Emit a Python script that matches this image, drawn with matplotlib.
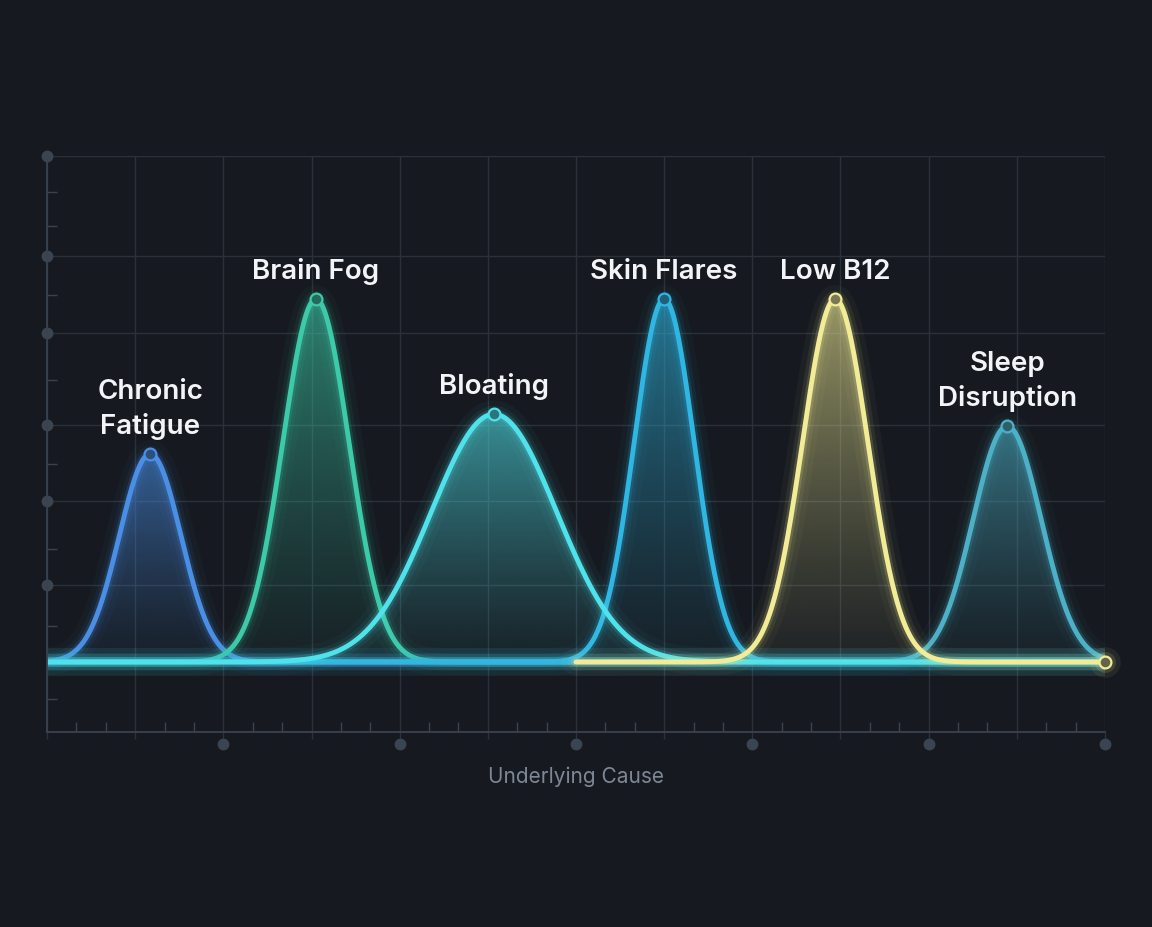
import numpy as np
import matplotlib
matplotlib.use("Agg")
import matplotlib.pyplot as plt
from matplotlib.colors import to_rgb
from matplotlib.patches import Polygon
from matplotlib.ticker import MultipleLocator, FixedLocator
from matplotlib.transforms import offset_copy

# peaks (x in grid units, height scaled so the tallest = 100)
causes = ["Chronic\nFatigue", "Brain Fog", "Bloating", "Skin Flares", "Low B12", "Sleep\nDisruption"]
centers = [1.17, 3.05, 5.07, 7.00, 8.94, 10.89]
heights = [57.3, 100.0, 68.3, 100.0, 100.0, 65.0]
spreads = [0.35, 0.375, 0.71, 0.34, 0.37, 0.385]
colors = ["#4a8fe6", "#3ccaa8", "#50e2ea", "#2fb6e2", "#f2ec96", "#4cb0c6"]
x_start = [0, 0, 0, 0, 6, 0]
x_end = [12, 12, 12, 12, 12, 12]
draw_order = [0, 1, 5, 3, 2, 4]

y_major = [0, 21.2, 44.4, 65.3, 90.6, 111.8, 139.4]
y_minor = [-10.2, 9.9, 31.1, 54.5, 77.7, 101.2, 120.2, 129.6]
x_range = (0, 12)
y_range = (-19.3, 139.4)

bg = "#161a20"
grid_col = "#2a313b"
axis_col = "#3a424e"
dot_col = "#3b4451"

plt.rcParams["font.family"] = ["Inter", "DejaVu Sans"]

fig = plt.figure(figsize=(11.52, 9.28), dpi=100)
fig.patch.set_facecolor(bg)
ax = fig.add_axes([0.0408, 0.2101, 0.9184, 0.6207])
ax.set_facecolor(bg)


def blend(c, a):
    r = np.array(to_rgb(c))
    b = np.array(to_rgb(bg))
    return tuple(b + (r - b) * a)


for k, i in enumerate(draw_order):
    c, h, s, col = centers[i], heights[i], spreads[i], colors[i]
    x = np.linspace(x_start[i], x_end[i], 800)
    y = h * np.exp(-((x - c) ** 2) / (2 * s ** 2))
    z = 2 + k * 0.1

    # gradient fill under the curve
    verts = np.column_stack([np.r_[x, x[::-1]], np.r_[y, np.zeros_like(y)]])
    patch = Polygon(verts, closed=True, facecolor="none", edgecolor="none")
    ax.add_patch(patch)
    grad = np.zeros((256, 1, 4))
    grad[:, 0, :3] = to_rgb(col)
    grad[:, 0, 3] = 0.05 + 0.53 * np.linspace(0, 1, 256) ** 1.2
    im = ax.imshow(grad, extent=[x_start[i], x_end[i], 0, h], origin="lower",
                   aspect="auto", interpolation="bicubic", zorder=z)
    im.set_clip_path(patch)

    # glow + line
    for lw, a in [(20, 0.035), (12, 0.07), (7, 0.16)]:
        ax.plot(x, y, color=col, lw=lw, alpha=a, solid_capstyle="round", zorder=z + 0.01)
    ax.plot(x, y, color=col, lw=3.5, solid_capstyle="round", zorder=z + 0.02)

    # peak marker and label
    ax.plot([c], [h], "o", ms=8.5, mfc=blend(col, 0.45), mec=col, mew=1.6, zorder=z + 0.03)
    ax.annotate(causes[i], (c, h), xytext=(0, 10.5), textcoords="offset points",
                ha="center", va="bottom", fontsize=20, fontweight="semibold",
                color="#f2f4f7", linespacing=1.38, zorder=10)

# end marker on the right of the last series
end_col = colors[4]
for ms, a in [(22, 0.07), (15, 0.14)]:
    ax.plot([x_range[1]], [0], "o", ms=ms, color=end_col, alpha=a, mew=0, clip_on=False, zorder=8)
ax.plot([x_range[1]], [0], "o", ms=8.5, mfc=blend(end_col, 0.35), mec=end_col, mew=1.6,
        clip_on=False, zorder=8.1)

ax.set_xlim(*x_range)
ax.set_ylim(*y_range)

ax.xaxis.set_major_locator(MultipleLocator(1))
ax.xaxis.set_minor_locator(MultipleLocator(1 / 3))
ax.yaxis.set_major_locator(FixedLocator(y_major))
ax.yaxis.set_minor_locator(FixedLocator(y_minor))
ax.grid(which="major", color=grid_col, lw=1.0, zorder=0)
ax.set_axisbelow(True)
ax.tick_params(axis="x", which="major", direction="out", length=5, color=grid_col, width=1)
ax.tick_params(axis="y", which="major", length=0)
ax.tick_params(which="minor", direction="in", length=7, color=axis_col, width=1)
ax.tick_params(labelbottom=False, labelleft=False)

for side in ["top", "right"]:
    ax.spines[side].set_visible(False)
for side in ["left", "bottom"]:
    ax.spines[side].set_color(axis_col)
    ax.spines[side].set_linewidth(1.3)

# dots on the axes
ax.plot(np.full(len(y_major) - 1, x_range[0]), y_major[1:], "o", ms=7.5, color=dot_col,
        clip_on=False, zorder=1)
even = np.arange(2, x_range[1] + 1, 2)
tr = offset_copy(ax.get_xaxis_transform(), fig=fig, x=0, y=-12, units="dots")
ax.plot(even, np.zeros_like(even), "o", ms=7.5, color=dot_col, transform=tr, clip_on=False)

ax.set_xlabel("Underlying Cause", fontsize=15, color="#7d8796", labelpad=19)

fig.savefig("out.png", dpi=100, facecolor=bg)
